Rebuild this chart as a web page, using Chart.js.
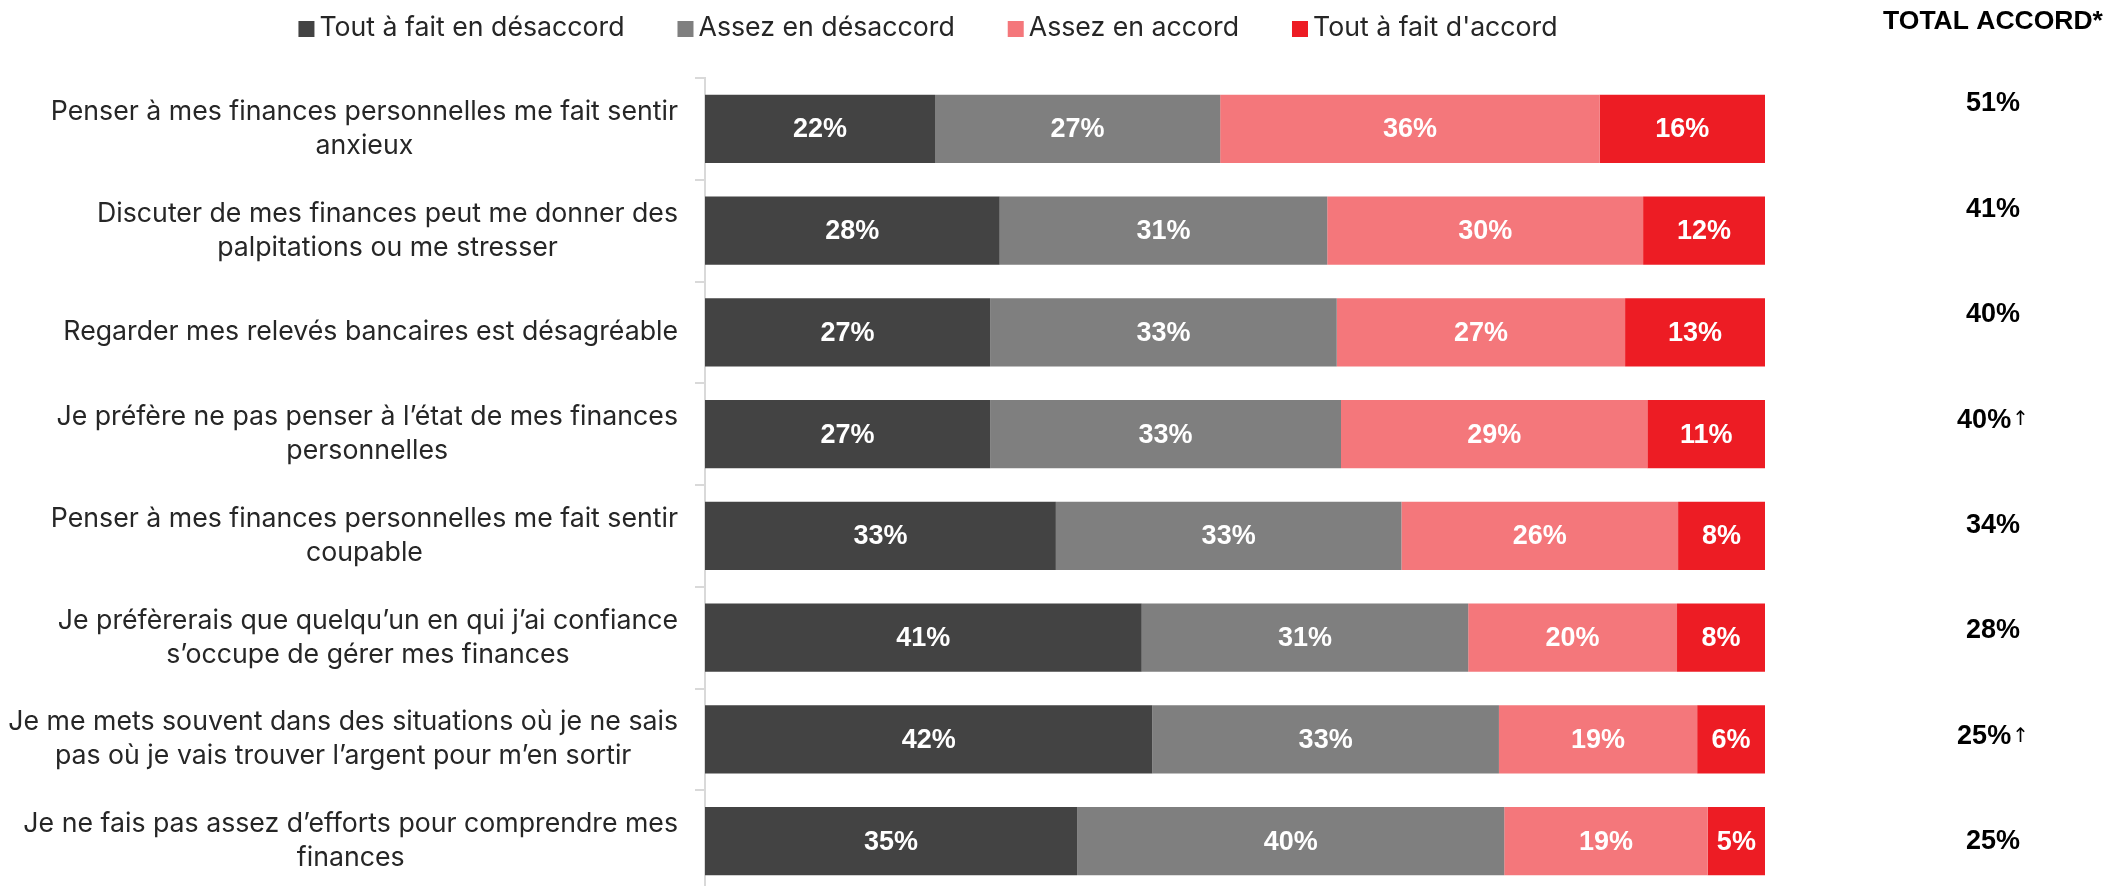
<!DOCTYPE html>
<html><head><meta charset="utf-8">
<script src="https://cdn.jsdelivr.net/npm/chart.js@4/dist/chart.umd.min.js"></script>
<style>html,body{margin:0;padding:0;background:#fff;overflow:hidden;} #wrap{width:2125px;height:900px;position:relative;}</style>
</head><body><div id="wrap"><canvas id="c" width="2125" height="900"></canvas></div>
<script>
const categories = [
  ["Penser à mes finances personnelles me fait sentir", "anxieux"],
  ["Discuter de mes finances peut me donner des", "palpitations ou me stresser"],
  ["Regarder mes relevés bancaires est désagréable"],
  ["Je préfère ne pas penser à l’état de mes finances", "personnelles"],
  ["Penser à mes finances personnelles me fait sentir", "coupable"],
  ["Je préfèrerais que quelqu’un en qui j’ai confiance", "s’occupe de gérer mes finances"],
  ["Je me mets souvent dans des situations où je ne sais", "pas où je vais trouver l’argent pour m’en sortir"],
  ["Je ne fais pas assez d’efforts pour comprendre mes", "finances"]
];
const seriesNames = ["Tout à fait en désaccord", "Assez en désaccord", "Assez en accord", "Tout à fait d'accord"];
const toutDesaccord  = [21.7, 27.8, 26.9, 26.9, 33.1, 41.2, 42.2, 35.1];
const assezDesaccord = [26.9, 30.9, 32.7, 33.1, 32.6, 30.8, 32.7, 40.3];
const assezAccord    = [35.8, 29.8, 27.2, 28.9, 26.1, 19.7, 18.7, 19.2];
const toutAccord     = [15.6, 11.5, 13.2, 11.1, 8.2, 8.3, 6.4, 5.4];
const totalAccord = [51, 41, 40, 40, 34, 28, 25, 25];
const totalArrow  = [false, false, false, true, false, false, true, false];
const totalHeader = "TOTAL ACCORD*";
const colors = ["#434343", "#7F7F7F", "#F4777B", "#ED1C24"];

const FONT = '"Liberation Sans", Arial, sans-serif';
const TFONT = 'Inter, "Liberation Sans", Arial, sans-serif';

const custom = {
  id: 'custom',
  afterDatasetsDraw(chart) {
    const ctx = chart.ctx;
    ctx.save();
    ctx.font = 'bold 27px ' + FONT;
    ctx.fillStyle = '#ffffff';
    ctx.textAlign = 'center';
    ctx.textBaseline = 'middle';
    chart.data.datasets.forEach((ds, di) => {
      chart.getDatasetMeta(di).data.forEach((el, i) => {
        const cx = (el.x + el.base) / 2;
        ctx.fillText(Math.round(ds.data[i]) + '%', cx, el.y + 1);
      });
    });
    ctx.restore();
  },
  afterDraw(chart) {
    const ctx = chart.ctx, ys = chart.scales.y;
    ctx.save();
    ctx.font = '26.7px ' + TFONT;
    ctx.fillStyle = '#262626';
    ctx.textAlign = 'center';
    ctx.textBaseline = 'middle';
    const R = 678, lh = 34;
    categories.forEach((lines, i) => {
      const cy = ys.getPixelForTick(i);
      const w = Math.max(...lines.map(l => ctx.measureText(l).width));
      const cx = R - w / 2;
      lines.forEach((l, j) => ctx.fillText(l, cx, cy + (j - (lines.length - 1) / 2) * lh));
    });
    // legend
    const boxS = 16, gapBT = 5, gapItem = 53, legY = 28;
    const widths = seriesNames.map(n => ctx.measureText(n).width);
    const total = widths.reduce((a, w) => a + boxS + gapBT + w, 0) + gapItem * (seriesNames.length - 1);
    let x = 928 - total / 2;
    ctx.textAlign = 'left';
    seriesNames.forEach((n, i) => {
      ctx.fillStyle = colors[i];
      ctx.fillRect(x, legY - boxS / 2 + 1, boxS, boxS);
      ctx.fillStyle = '#262626';
      ctx.fillText(n, x + boxS + gapBT, legY);
      x += boxS + gapBT + widths[i] + gapItem;
    });
    // totals column
    const colX = 1993;
    ctx.fillStyle = '#000000';
    ctx.font = 'bold 26.5px ' + FONT;
    ctx.textAlign = 'center';
    ctx.fillText(totalHeader, colX, 22);
    const tTop = 104, tStep = 105.4;
    totalAccord.forEach((v, i) => {
      const ty = tTop + i * tStep;
      const txt = v + '%';
      ctx.font = 'bold 27px ' + FONT;
      const tw = ctx.measureText(txt).width;
      let aw = 0;
      if (totalArrow[i]) { ctx.font = '20px "DejaVu Sans", sans-serif'; aw = ctx.measureText('↑').width + 1; }
      const start = colX - (tw + aw) / 2;
      ctx.font = 'bold 27px ' + FONT;
      ctx.textAlign = 'left';
      ctx.fillText(txt, start, ty);
      if (totalArrow[i]) {
        ctx.font = '20px "DejaVu Sans", sans-serif';
        ctx.fillText('↑', start + tw + 1, ty);
      }
    });
    ctx.restore();
  }
};

const seriesValues = [toutDesaccord, assezDesaccord, assezAccord, toutAccord];

new Chart(document.getElementById('c'), {
  type: 'bar',
  data: {
    labels: categories,
    datasets: seriesNames.map((n, i) => ({
      label: n,
      data: seriesValues[i],
      backgroundColor: colors[i],
      borderWidth: 0,
      barPercentage: 0.67,
      categoryPercentage: 1
    }))
  },
  options: {
    indexAxis: 'y',
    responsive: false,
    animation: false,
    layout: { padding: { left: 0, right: 360, top: 78, bottom: 8 } },
    plugins: { legend: { display: false }, tooltip: { enabled: false } },
    scales: {
      x: { stacked: true, min: 0, max: 100, display: false },
      y: {
        stacked: true,
        offset: true,
        grid: { offset: true, drawOnChartArea: false, drawTicks: true, tickLength: 10, color: '#d9d9d9', lineWidth: 2 },
        border: { display: true, color: '#d9d9d9', width: 2 },
        ticks: { display: false },
        afterFit: (s) => { s.width = 705; }
      }
    }
  },
  plugins: [custom]
});
</script>
</body></html>
